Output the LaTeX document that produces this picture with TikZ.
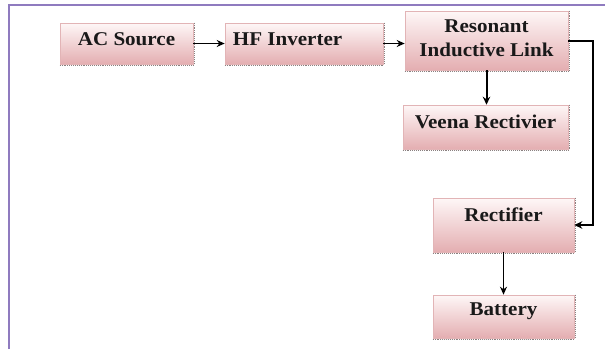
\documentclass[tikz,border=0pt]{standalone}
\usepackage{fontspec}
\newfontfamily\boxfont[FakeStretch=1.08]{Liberation Serif}
\usetikzlibrary{arrows.meta,calc}
\definecolor{framepurple}{HTML}{8F7BBF}
\definecolor{boxtop}{HTML}{FEF7F7}
\definecolor{boxmid}{HTML}{F6E0E0}
\definecolor{boxbot}{HTML}{E4AEB1}
\definecolor{boxedge}{HTML}{E2B4B6}
\definecolor{shadowgray}{HTML}{8A8080}
\tikzset{
  blockbox/.style={rectangle, draw=boxedge, line width=0.6pt, top color=boxtop, middle color=boxmid, bottom color=boxbot, inner sep=0pt},
  blocktext/.style={inner sep=0pt, font=\boxfont\bfseries\fontsize{19.5}{24}\selectfont, text=black!90, align=center},
  conn/.style={draw=black, line width=1.4pt, -{Stealth[length=8pt,width=7pt]}},
  thickconn/.style={draw=black, line width=2pt, -{Stealth[length=8pt,width=7.5pt]}},
  shadowline/.style={shadowgray, densely dotted, line width=0.9pt}
}
\begin{document}
\begin{tikzpicture}[x=1pt,y=-1pt]
\useasboundingbox (0,0) rectangle (605,349);
\fill[white] (0,0) rectangle (605,349);
% frame
\draw[framepurple, line width=2pt] (9,349) -- (9,5) -- (605,5);

% boxes
\node[blockbox, minimum width=133pt, minimum height=41pt] (ac) at (126.5,43.5) {};
\node[blockbox, minimum width=158pt, minimum height=41pt] (hf) at (304,43.5) {};
\node[blockbox, minimum width=163pt, minimum height=59pt] (rl) at (486.5,40.5) {};
\node[blockbox, minimum width=165pt, minimum height=44pt] (vr) at (485.5,127) {};
\node[blockbox, minimum width=141pt, minimum height=54pt] (re) at (503.5,225) {};
\node[blockbox, minimum width=141pt, minimum height=43pt] (ba) at (503.5,316.5) {};

% shadows
\foreach \b in {ac,hf,rl,vr,re,ba}{
  \draw[shadowline] ([yshift=-0.8pt]\b.south west) -- ([yshift=-0.8pt]\b.south east);
  \draw[shadowline] ([xshift=0.8pt]\b.north east) -- ([xshift=0.8pt]\b.south east);
}

% texts
\node[blocktext, anchor=north] (acT) at ([yshift=-10pt]ac.north) {AC Source};
\node[blocktext, anchor=north west] (hfT) at ([xshift=8pt,yshift=-9.5pt]hf.north west) {HF Inverter};
\node[blocktext, anchor=north] (rlT) at ([yshift=-9pt]rl.north) {Resonant\\Inductive Link};
\node[blocktext, anchor=north] (vrT) at ([yshift=-10pt]vr.north) {Veena Rectivier};
\node[blocktext, anchor=north] (reT) at ([yshift=-9.5pt]re.north) {Rectifier};
\node[blocktext, anchor=north] (baT) at ([yshift=-8pt]ba.north) {Battery};

% connectors
\draw[conn] (ac.east) -- (hf.west);
\draw[conn] (hf.east) -- (hf.east -| rl.west);
\draw[thickconn] (rl.south) -- (rl.south |- vr.north);
\coordinate (bend) at (593,40.5);
\draw[thickconn] (rl.east) -- (bend) |- (re.east);
\draw[conn] (re.south) -- (ba.north);
\end{tikzpicture}
\end{document}
